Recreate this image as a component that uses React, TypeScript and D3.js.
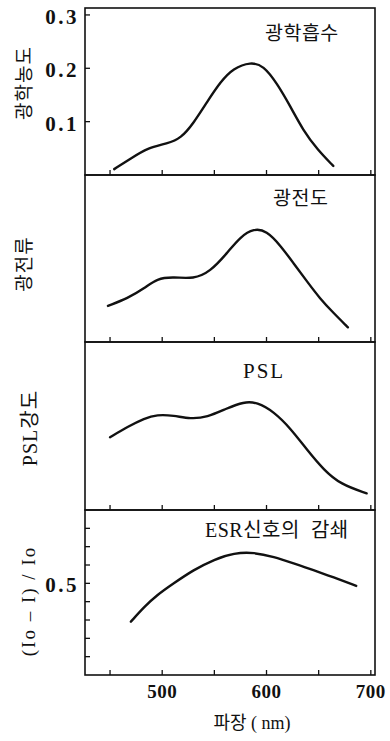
import React, { useRef, useEffect } from "react";
import * as d3 from "d3";

// wavelength (nm) / value pairs
const absWavelength = [454, 470, 486, 505, 518, 530, 543, 556, 568, 585, 597, 610, 623, 635, 649, 664];
const absValue = [0.011, 0.031, 0.051, 0.059, 0.069, 0.097, 0.137, 0.175, 0.2, 0.212, 0.205, 0.172, 0.128, 0.084, 0.047, 0.017];

const pcWavelength = [448, 467, 483, 495, 511, 530, 546, 562, 575, 588, 600, 613, 626, 639, 651, 664, 678];
const pcValue = [0.216, 0.262, 0.321, 0.381, 0.39, 0.377, 0.421, 0.531, 0.631, 0.68, 0.666, 0.581, 0.471, 0.361, 0.262, 0.175, 0.088];

const pslWavelength = [450, 467, 483, 495, 511, 527, 543, 562, 578, 591, 607, 623, 639, 655, 671, 696];
const pslValue = [0.433, 0.496, 0.546, 0.568, 0.563, 0.542, 0.552, 0.605, 0.644, 0.642, 0.585, 0.486, 0.357, 0.238, 0.153, 0.099];

const esrWavelength = [470, 483, 495, 511, 530, 550, 569, 588, 607, 626, 645, 664, 686];
const esrValue = [0.291, 0.373, 0.436, 0.5, 0.573, 0.631, 0.666, 0.669, 0.645, 0.609, 0.573, 0.533, 0.486];

const xTicks = [450, 500, 550, 600, 650, 700];
const xTickLabels = [500, 600, 700];
const absTicks = [0.1, 0.2, 0.3];
const esrTicks = [0.1, 0.2, 0.3, 0.4, 0.5, 0.6, 0.7, 0.8];
const esrTickLabels = [0.5];

const panelTitles = ["광학흡수", "광전도", "PSL", "ESR신호의  감쇄"];
const yTitles = ["광학농도", "광전류", "PSL강도", "(Io – I) / Io"];

const App = () => {
    const ref = useRef(null);

    useEffect(() => {
        const svgWidth = 390;
        const svgHeight = 741;
        const left = 85;
        const right = 375;
        const tops = [8, 175, 342, 510];
        const bottom = 675;
        const ink = "#111";
        const serif = "'Liberation Serif', 'DejaVu Serif', 'Noto Sans CJK KR', serif";
        const kr = "'Noto Sans CJK KR', sans-serif";

        const svg = d3.select(ref.current)
            .attr("width", svgWidth)
            .attr("height", svgHeight);
        svg.selectAll("*").remove();

        svg.append("rect").attr("width", svgWidth).attr("height", svgHeight).attr("fill", "#fff");

        const xScale = d3.scaleLinear().domain([426, 704]).range([left, right]);

        const panels = [
            { wl: absWavelength, val: absValue, domain: [0, 0.313] },
            { wl: pcWavelength, val: pcValue, domain: [0, 1] },
            { wl: pslWavelength, val: pslValue, domain: [0, 1] },
            { wl: esrWavelength, val: esrValue, domain: [0, 0.9] },
        ];

        const titlePos = [
            { x: 265, y: 40, size: 19.5, family: kr },
            { x: 273, y: 205, size: 19.5, family: kr },
            { x: 243, y: 378, size: 21, family: serif },
            { x: 205, y: 537, size: 20, family: serif },
        ];
        const yTitlePos = [
            { x: 22, y: 83, size: 19, family: kr },
            { x: 22, y: 264, size: 19, family: kr },
            { x: 30, y: 428, size: 20, family: serif },
            { x: 28, y: 601, size: 19, family: serif },
        ];

        panels.forEach((p, i) => {
            const top = tops[i];
            const bot = i < 3 ? tops[i + 1] : bottom;
            const yScale = d3.scaleLinear().domain(p.domain).range([bot, top]);
            const g = svg.append("g");

            // frame
            g.append("rect")
                .attr("x", left)
                .attr("y", top)
                .attr("width", right - left)
                .attr("height", bot - top)
                .attr("fill", "none")
                .attr("stroke", ink)
                .attr("stroke-width", 1.6);

            // bottom ticks pointing inward
            g.selectAll(".xtick")
                .data(xTicks)
                .enter()
                .append("line")
                .attr("x1", d => xScale(d))
                .attr("x2", d => xScale(d))
                .attr("y1", bot)
                .attr("y2", bot - 5)
                .attr("stroke", ink)
                .attr("stroke-width", 1.3);

            // curve
            const pts = p.wl.map((w, k) => [w, p.val[k]]);
            const line = d3.line()
                .x(d => xScale(d[0]))
                .y(d => yScale(d[1]))
                .curve(d3.curveBasis);
            g.append("path")
                .attr("d", line(pts))
                .attr("fill", "none")
                .attr("stroke", ink)
                .attr("stroke-width", 2.4)
                .attr("stroke-linecap", "round");

            // y ticks
            const ticks = i === 0 ? absTicks : i === 3 ? esrTicks : [];
            const labels = i === 0 ? absTicks : i === 3 ? esrTickLabels : [];
            g.selectAll(".ytick")
                .data(ticks)
                .enter()
                .append("line")
                .attr("x1", left)
                .attr("x2", left + 5)
                .attr("y1", d => yScale(d))
                .attr("y2", d => yScale(d))
                .attr("stroke", ink)
                .attr("stroke-width", 1.3);
            g.selectAll(".ylabel")
                .data(labels)
                .enter()
                .append("text")
                .attr("x", left - 6)
                .attr("y", d => yScale(d) + 2)
                .attr("text-anchor", "end")
                .attr("dominant-baseline", "central")
                .style("font-family", serif)
                .style("font-weight", "bold")
                .style("font-size", "21px")
                .style("letter-spacing", "2.5px")
                .style("fill", ink)
                .text(d => d3.format(".1f")(d));

            // panel title
            const tp = titlePos[i];
            g.append("text")
                .attr("x", tp.x)
                .attr("y", tp.y)
                .style("font-family", tp.family)
                .style("font-size", tp.size + "px")
                .style("letter-spacing", i === 2 ? "2px" : "0.5px")
                .style("white-space", "pre")
                .style("fill", ink)
                .text(panelTitles[i]);

            // y title
            const yp = yTitlePos[i];
            g.append("text")
                .attr("transform", `translate(${yp.x},${yp.y}) rotate(-90)`)
                .attr("text-anchor", "middle")
                .attr("dominant-baseline", "central")
                .style("font-family", yp.family)
                .style("font-size", yp.size + "px")
                .style("letter-spacing", i === 3 ? "2px" : "1px")
                .style("fill", ink)
                .text(yTitles[i]);
        });

        // x tick labels
        svg.selectAll(".xlabel")
            .data(xTickLabels)
            .enter()
            .append("text")
            .attr("x", d => xScale(d))
            .attr("y", 698)
            .attr("text-anchor", "middle")
            .style("font-family", serif)
            .style("font-weight", "bold")
            .style("font-size", "19px")
            .style("letter-spacing", "0.5px")
            .style("fill", ink)
            .text(d => d);

        svg.append("text")
            .attr("x", 252)
            .attr("y", 729)
            .attr("text-anchor", "middle")
            .style("font-family", serif)
            .style("font-size", "18px")
            .style("fill", ink)
            .text("파장 ( nm)");
    }, []);

    return (
        <div style={{ position: "absolute", left: 0, top: 0 }}>
            <svg ref={ref} style={{ display: "block" }}></svg>
        </div>
    );
};

export default App;
